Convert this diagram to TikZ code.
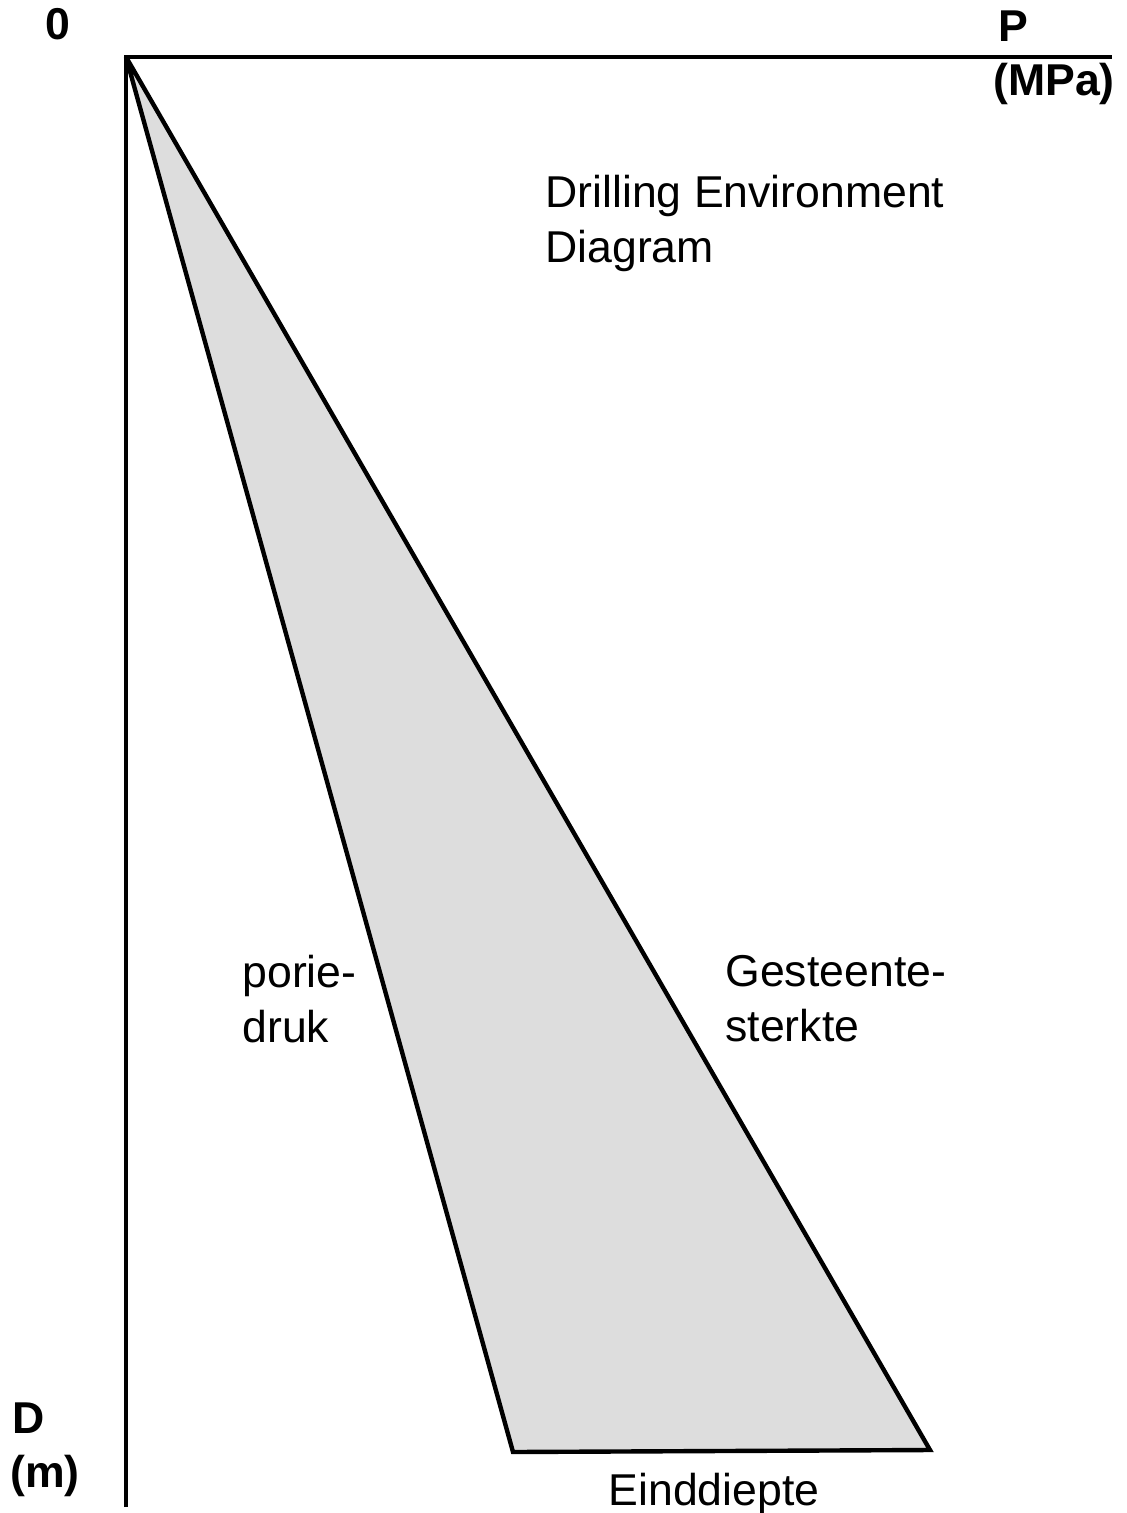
\documentclass[tikz,border=0pt]{standalone}
\usepackage{fontspec}
\setmainfont{Liberation Sans}
\usetikzlibrary{positioning}
\definecolor{window}{HTML}{DDDDDD}

\begin{document}
\begin{tikzpicture}[x=0.5pt,y=-0.5pt,
	lbl/.style={inner sep=0pt,font=\fontsize{22.3}{27.5}\selectfont,align=left},
	axlbl/.style={inner sep=0pt,font=\fontsize{22.3}{27.5}\selectfont\bfseries}]
	\useasboundingbox (0,0) rectangle (1127,1513);
	% corner points
	\coordinate (o) at (126,57);
	\coordinate (pend) at (1112,57);
	\coordinate (dend) at (126,1507);
	\coordinate (pore) at (513,1452);
	\coordinate (rock) at (930,1450);
	% the window between the two lines
	\fill[window] (o) -- (pore) -- (rock) -- cycle;
	\draw[line width=2.2pt] (o) -- (pore) -- (rock) -- (o);
	% the axes
	\draw[line width=2.4pt] (dend) -- (o) -- (pend);
	%% the labels
	\node[axlbl,anchor=base west] (zero) at (45,40) {0};
	\node[axlbl,anchor=base west] (plbl) at (998,42) {P};
	\node[axlbl,anchor=base west] (punit) at (993,96) {(MPa)};
	\node[axlbl,anchor=base west] (dlbl) at (12,1433) {D};
	\node[axlbl,anchor=base west] (dunit) at (10,1487) {(m)};
	\node[lbl,anchor=north west] (title) at (545,175) {Drilling Environment\\Diagram};
	\node[lbl,anchor=north west] (porie) at (242,955) {porie-\\druk};
	\node[lbl,anchor=north west] (sterkte) at (725,955) {Gesteente-\\sterkte};
	\node[lbl,anchor=base] (diepte) at (714,1505) {Einddiepte};
\end{tikzpicture}
\end{document}
